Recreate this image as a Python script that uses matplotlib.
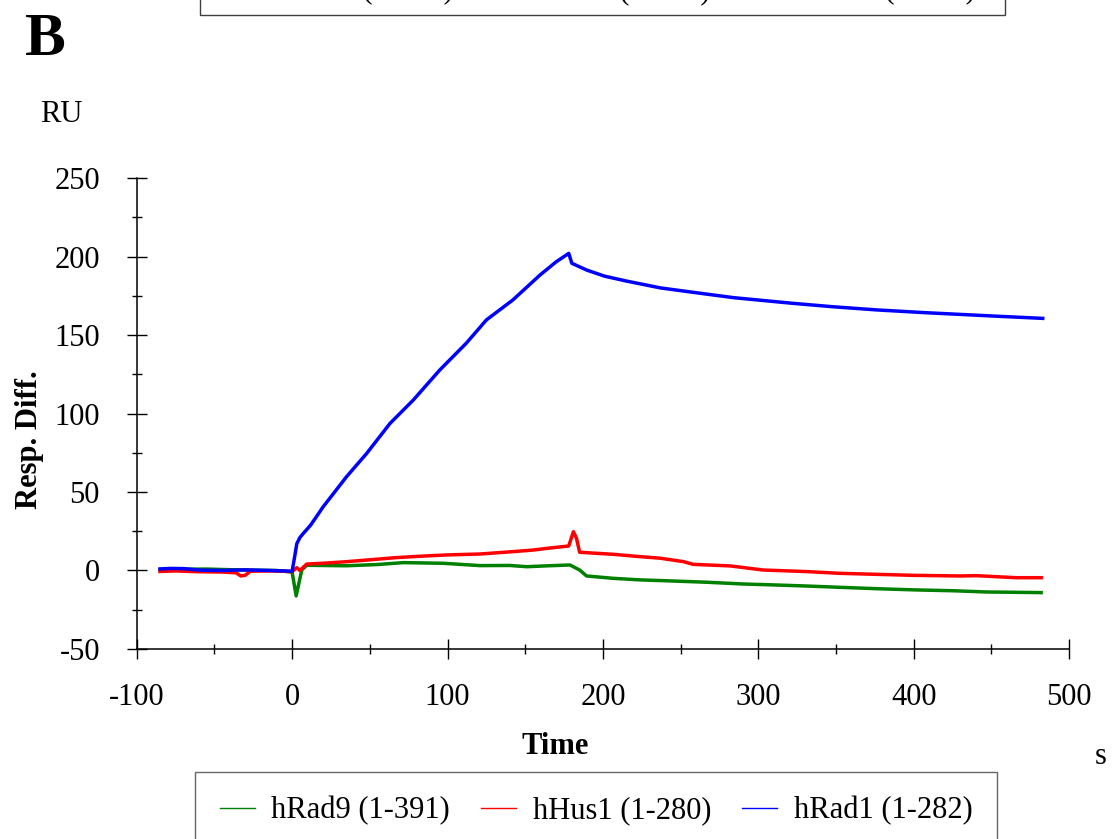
import matplotlib
matplotlib.use('Agg')
import matplotlib.pyplot as plt
from matplotlib.lines import Line2D
from matplotlib.patches import Rectangle

plt.rcParams['font.family'] = ['Liberation Serif', 'DejaVu Serif']
plt.rcParams['axes.unicode_minus'] = False

# sensorgram data (time in s, response in RU)
t_rad9 = [-85, -70, -55, -40, -25, -10, 0, 2.6, 6.2, 9.4, 35, 55, 71.6, 97, 121, 140, 151, 165,
          178.8, 185, 189.5, 206.6, 224, 245, 267, 290, 310, 331, 352, 376, 402, 425, 447, 482]
rad9 = [0.5, 0.8, 0.9, 0.5, 0.2, 0.0, -1.0, -16.2, 0.3, 3.3, 3.0, 3.8, 5.0, 4.6, 3.1, 3.2, 2.4, 3.0,
        3.5, 0.3, -3.5, -5.0, -6.0, -6.7, -7.5, -8.6, -9.2, -9.9, -10.7, -11.6, -12.4, -12.9, -13.7, -14.1]

t_hus1 = [-85, -75, -60, -45, -36, -33, -30, -27, -15, -5, 0, 3, 5, 9.4, 20, 35, 50, 67, 85, 99.5,
          121, 142, 155, 164, 178, 181, 183, 185, 195, 206.6, 224, 237, 252, 258, 282, 303, 331, 352,
          374, 400, 430, 440, 466, 482]
hus1 = [-0.6, -0.3, -0.8, -1.0, -1.5, -3.5, -3.0, -0.5, -0.3, -0.5, -0.7, 1.8, 0, 4.1, 4.6, 5.6, 6.8, 8.2, 9.2, 9.9,
        10.5, 12, 13, 14.1, 15.6, 24.7, 20.5, 11.6, 11.0, 10.3, 8.8, 7.8, 5.6, 3.9, 2.9, 0.3, -0.7, -1.8,
        -2.4, -3.1, -3.5, -3.3, -4.6, -4.6]

t_rad1 = [-85, -78, -70, -59, -45, -31, -15, -5, 0, 1.5, 3, 5, 7.3, 12, 20, 35, 48, 63, 78, 95, 112,
          125, 142, 159.5, 170, 178, 180, 189.5, 201, 215, 237, 258, 284, 322, 348, 376, 408, 451, 483]
rad1 = [1.0, 1.3, 1.2, 0.2, 0.0, 0.4, 0.0, -0.3, -0.5, 8, 17, 21, 23.7, 29, 40.6, 59.7, 74.6, 93.7, 108.6, 127.7, 144.7,
        159.6, 172.3, 188.2, 196.7, 202, 195.7, 191.4, 187.5, 184.4, 180, 177.2, 173.8, 170.2, 168, 166, 164.2, 162.1, 160.6]

labels = ['hRad9 (1-391)', 'hHus1 (1-280)', 'hRad1 (1-282)']
colors = ['#008000', '#ff0000', '#0000ff']

fs = 22

fig = plt.figure(figsize=(11.16, 8.39), dpi=100)
ax = fig.add_axes([0.1225, 0.2265, 0.8355, 0.5613])

ax.plot(t_rad9, rad9, color=colors[0], lw=2.5)
ax.plot(t_hus1, hus1, color=colors[1], lw=2.5)
ax.plot(t_rad1, rad1, color=colors[2], lw=2.5)

ax.set_xlim(-100, 500)
ax.set_ylim(-50, 250)
ax.set_xticks(range(-100, 501, 100))
ax.set_xticks(range(-50, 500, 100), minor=True)
ax.set_yticks(range(-50, 251, 50))
ax.set_yticks(range(-25, 250, 50), minor=True)
for s in ['top', 'right']:
    ax.spines[s].set_visible(False)
for s in ['left', 'bottom']:
    ax.spines[s].set_linewidth(1.1)
ax.tick_params(which='major', direction='inout', length=15, width=1, labelsize=fs)
ax.tick_params(axis='y', which='major', pad=19)
ax.tick_params(axis='x', which='major', pad=17)
ax.tick_params(which='minor', direction='inout', length=7, width=1)

fig.text(30 / 1116, 1 - 440 / 839, 'Resp. Diff.', rotation=90, fontsize=fs, fontweight='bold',
         ha='center', va='center')
fig.text(61 / 1116, 1 - 115 / 839, 'RU', fontsize=fs, ha='center', va='center')
fig.text(555 / 1116, 1 - 746 / 839, 'Time', fontsize=fs, fontweight='bold', ha='center', va='center')
fig.text(1101 / 1116, 1 - 757 / 839, 's', fontsize=fs, ha='center', va='center')
fig.text(25 / 1116, 1 - 55 / 839, 'B', fontsize=44, fontweight='bold', ha='left', va='baseline')

# legend at the bottom
handles = [Line2D([], [], color=c, lw=1) for c in colors]
leg = fig.legend(handles, labels, ncol=3, loc='center', bbox_to_anchor=(596 / 1116, 1 - 811 / 839),
                 fontsize=fs, frameon=True, fancybox=False, edgecolor='#404040', handlelength=1.15,
                 handletextpad=0.55, columnspacing=1.0, borderpad=0.8)
leg.get_frame().set_linewidth(1)

# box of the legend from the panel above, cut off at the top
fig.patches.append(Rectangle((200 / 1116, 1 - 15 / 839), 805 / 1116, 30 / 839, transform=fig.transFigure,
                             fill=False, edgecolor='#404040', lw=1))
for x, lab in zip([275, 532, 797], labels):
    fig.text(x / 1116, 1 + 2 / 839, lab, fontsize=fs, ha='left', va='baseline')

fig.savefig('out.png', dpi=100)
